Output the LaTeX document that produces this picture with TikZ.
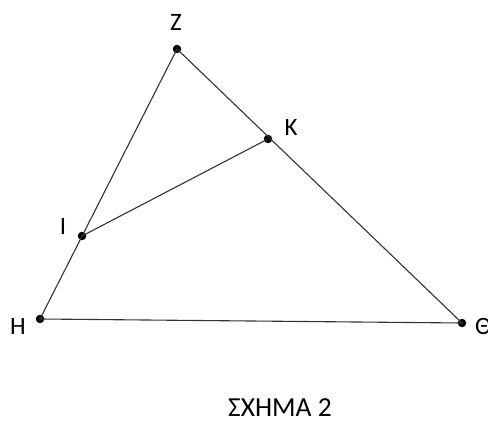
\documentclass[tikz,border=0pt]{standalone}
\usepackage{fontspec}
\setmainfont{Carlito}
\begin{document}
\begin{tikzpicture}[x=1pt,y=-1pt,
  seg/.style={draw=black!80,line width=1.1pt},
  pt/.style={circle,fill=black,inner sep=0pt,minimum size=8.5pt},
  lbl/.style={font=\fontsize{25}{28}\selectfont,inner sep=0pt}]
\useasboundingbox (0,0) rectangle (488,425);
\node[pt] (Z) at (177,49) {};
\node[pt] (K) at (268,139) {};
\node[pt] (I) at (82,236) {};
\node[pt] (H) at (40,319) {};
\node[pt] (T) at (462,323) {};
\draw[seg] (Z.center) -- (H.center) -- (T.center) -- (Z.center);
\draw[seg] (I.center) -- (K.center);
\node[lbl] (lZ) at (176,22) {Ζ};
\node[lbl] (lK) at (291,127) {Κ};
\node[lbl] (lI) at (63,226) {Ι};
\node[lbl] (lH) at (18,326) {Η};
\node[lbl,anchor=west] (lT) at (475,326) {Θ};
\node[font=\fontsize{27.5}{32}\selectfont,inner sep=0pt] (cap) at (280,408) {ΣΧΗΜΑ 2};
\end{tikzpicture}
\end{document}
